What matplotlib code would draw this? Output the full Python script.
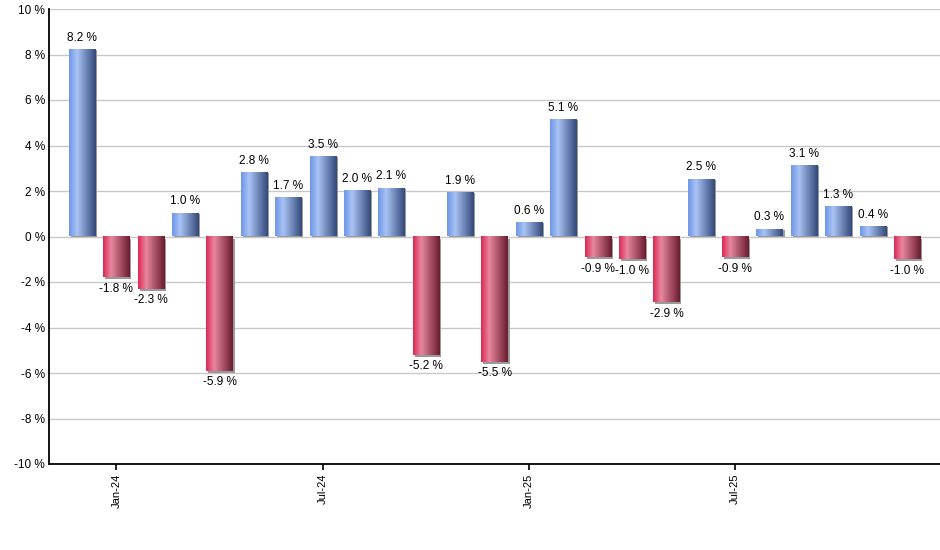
import matplotlib
matplotlib.use("Agg")
import matplotlib.pyplot as plt
import matplotlib.transforms as mtransforms
import numpy as np
from matplotlib.colors import LinearSegmentedColormap
from matplotlib.patches import Rectangle

plt.rcParams["font.family"] = ["Liberation Sans", "DejaVu Sans"]

months = ["Dec-23", "Jan-24", "Feb-24", "Mar-24", "Apr-24", "May-24", "Jun-24",
          "Jul-24", "Aug-24", "Sep-24", "Oct-24", "Nov-24", "Dec-24", "Jan-25",
          "Feb-25", "Mar-25", "Apr-25", "May-25", "Jun-25", "Jul-25", "Aug-25",
          "Sep-25", "Oct-25", "Nov-25", "Dec-25"]
returns = [8.2, -1.8, -2.3, 1.0, -5.9, 2.8, 1.7, 3.5, 2.0, 2.1, -5.2, 1.9, -5.5,
           0.6, 5.1, -0.9, -1.0, -2.9, 2.5, -0.9, 0.3, 3.1, 1.3, 0.4, -1.0]
tick_months = ["Jan-24", "Jul-24", "Jan-25", "Jul-25"]

blue_cmap = LinearSegmentedColormap.from_list(
    "bl", [(0.0, "#6f97e8"), (0.3, "#a9c3f5"), (1.0, "#33497a")])
red_cmap = LinearSegmentedColormap.from_list(
    "rd", [(0.0, "#dc2a55"), (0.3, "#e8879d"), (1.0, "#6a1c30")])

fig = plt.figure(figsize=(9.4, 5.5), dpi=100)
ax = fig.add_axes([49 / 940, 1 - 464 / 550, 1 - 49 / 940, 455 / 550])

x = np.arange(len(returns))
width = 0.76
grad = np.linspace(0, 1, 64).reshape(1, -1)
shadow_pos = mtransforms.offset_copy(ax.transData, fig=fig, x=2, y=0, units="dots")
shadow_neg = mtransforms.offset_copy(ax.transData, fig=fig, x=2, y=-2, units="dots")

for xi, v in zip(x, returns):
    x0 = xi - width / 2
    ax.add_patch(Rectangle((x0, 0), width, v,
                           transform=shadow_pos if v >= 0 else shadow_neg,
                           facecolor="#9a9a9a", edgecolor="none", zorder=2))
    cmap = blue_cmap if v >= 0 else red_cmap
    ax.imshow(grad, cmap=cmap, aspect="auto", interpolation="bilinear",
              extent=(x0, x0 + width, min(0, v), max(0, v)), zorder=3)
    if v >= 0:
        ax.annotate(f"{v:.1f} %", (xi, v), xytext=(0, 4.5), textcoords="offset points",
                    ha="center", va="bottom", fontsize=8.5, zorder=4)
    else:
        ax.annotate(f"{v:.1f} %", (xi, v), xytext=(0, -4), textcoords="offset points",
                    ha="center", va="top", fontsize=8.5, zorder=4)

ax.set_xlim(-0.96, len(returns) - 1 + 0.96)
ax.set_ylim(-10, 10)
ax.set_yticks(np.arange(-10, 11, 2))
ax.set_yticklabels([f"{t} %" for t in range(-10, 11, 2)], fontsize=8.5)
ax.set_xticks([months.index(m) for m in tick_months])
ax.set_xticklabels(tick_months, rotation=90, fontsize=8)
ax.tick_params(axis="y", length=0, pad=3)
ax.tick_params(axis="x", length=4, width=1.2, pad=3)

ax.grid(True, axis="y", color="#c8c8c8", linewidth=1)
ax.set_axisbelow(True)
for s in ["top", "right"]:
    ax.spines[s].set_visible(False)
ax.spines["left"].set_linewidth(1.3)
ax.spines["bottom"].set_linewidth(1.3)

fig.savefig("out.png", dpi=100)
